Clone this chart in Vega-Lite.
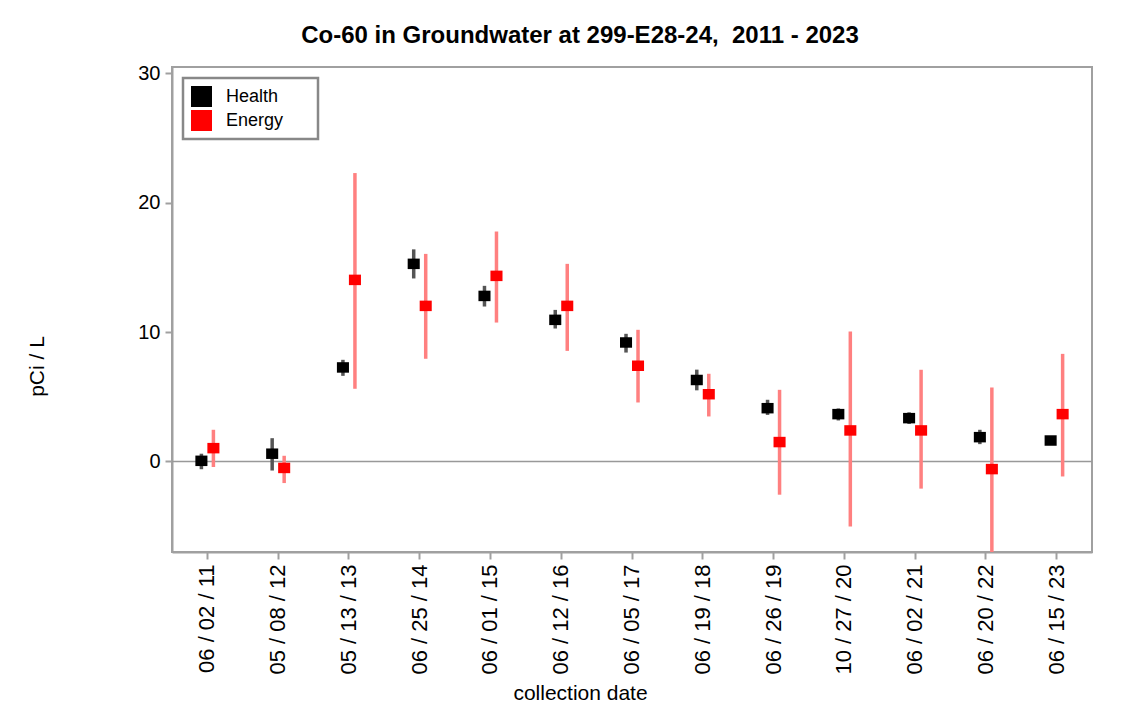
{
  "$schema": "https://vega.github.io/schema/vega-lite/v6.json",
  "autosize": {"type": "none"},
  "width": 920,
  "height": 485,
  "padding": {"left": 172, "top": 67, "right": 48, "bottom": 165},
  "background": "white",
  "config": {
    "font": "Liberation Sans",
    "view": {"stroke": "#a0a0a0", "strokeWidth": 2},
    "axisX": {
      "titleFontSize": 21,
      "titleFontWeight": "normal",
      "titleColor": "#000000",
      "titleX": 408,
      "titleY": 141,
      "titleAlign": "center",
      "titleBaseline": "middle",
      "labelAngle": 270,
      "labelAlign": "right",
      "labelBaseline": "middle",
      "labelFontSize": 22,
      "labelColor": "#000000",
      "labelPadding": 5,
      "tickSize": 7,
      "tickColor": "#a0a0a0",
      "tickWidth": 2,
      "domainColor": "#a0a0a0",
      "domainWidth": 2,
      "grid": false
    },
    "axisY": {
      "titleFontSize": 21,
      "titleFontWeight": "normal",
      "titleColor": "#000000",
      "titleAngle": 270,
      "titleX": -135,
      "titleY": 299,
      "titleAlign": "center",
      "titleBaseline": "middle",
      "labelFontSize": 20,
      "labelColor": "#000000",
      "labelPadding": 5,
      "tickSize": 7,
      "tickColor": "#a0a0a0",
      "tickWidth": 2,
      "domainColor": "#a0a0a0",
      "domainWidth": 2,
      "grid": false
    }
  },
  "title": {
    "text": "Co-60 in Groundwater at 299-E28-24,\u00a0 2011 - 2023",
    "fontSize": 24,
    "fontWeight": "bold",
    "color": "#000000",
    "anchor": "middle",
    "frame": "group",
    "dx": -52,
    "baseline": "alphabetic",
    "offset": -4
  },
  "datasets": {
    "zero": [{"z": 0}]
  },
  "data": {
    "values": [
      {"date": "06 / 02 / 11", "source": "Health", "v": 0.05, "lo": -0.6, "hi": 0.6},
      {"date": "06 / 02 / 11", "source": "Energy", "v": 1.03, "lo": -0.43, "hi": 2.45},
      {"date": "05 / 08 / 12", "source": "Health", "v": 0.6, "lo": -0.7, "hi": 1.8},
      {"date": "05 / 08 / 12", "source": "Energy", "v": -0.5, "lo": -1.67, "hi": 0.44},
      {"date": "05 / 13 / 13", "source": "Health", "v": 7.27, "lo": 6.62, "hi": 7.86},
      {"date": "05 / 13 / 13", "source": "Energy", "v": 14.04, "lo": 5.62, "hi": 22.3},
      {"date": "06 / 25 / 14", "source": "Health", "v": 15.28, "lo": 14.15, "hi": 16.4},
      {"date": "06 / 25 / 14", "source": "Energy", "v": 12.03, "lo": 7.94, "hi": 16.05},
      {"date": "06 / 01 / 15", "source": "Health", "v": 12.8, "lo": 11.98, "hi": 13.58},
      {"date": "06 / 01 / 15", "source": "Energy", "v": 14.35, "lo": 10.74, "hi": 17.78},
      {"date": "06 / 12 / 16", "source": "Health", "v": 10.95, "lo": 10.28, "hi": 11.72},
      {"date": "06 / 12 / 16", "source": "Energy", "v": 12.03, "lo": 8.55, "hi": 15.28},
      {"date": "06 / 05 / 17", "source": "Health", "v": 9.2, "lo": 8.42, "hi": 9.87},
      {"date": "06 / 05 / 17", "source": "Energy", "v": 7.4, "lo": 4.56, "hi": 10.18},
      {"date": "06 / 19 / 18", "source": "Health", "v": 6.3, "lo": 5.5, "hi": 7.1},
      {"date": "06 / 19 / 18", "source": "Energy", "v": 5.2, "lo": 3.48, "hi": 6.78},
      {"date": "06 / 26 / 19", "source": "Health", "v": 4.12, "lo": 3.6, "hi": 4.77},
      {"date": "06 / 26 / 19", "source": "Energy", "v": 1.5, "lo": -2.57, "hi": 5.54},
      {"date": "10 / 27 / 20", "source": "Health", "v": 3.66, "lo": 3.17, "hi": 4.1},
      {"date": "10 / 27 / 20", "source": "Energy", "v": 2.4, "lo": -5.02, "hi": 10.05},
      {"date": "06 / 02 / 21", "source": "Health", "v": 3.35, "lo": 2.9, "hi": 3.8},
      {"date": "06 / 02 / 21", "source": "Energy", "v": 2.4, "lo": -2.1, "hi": 7.09},
      {"date": "06 / 20 / 22", "source": "Health", "v": 1.88, "lo": 1.34, "hi": 2.45},
      {"date": "06 / 20 / 22", "source": "Energy", "v": -0.59, "lo": -7.0, "hi": 5.72},
      {"date": "06 / 15 / 23", "source": "Health", "v": 1.62, "lo": 1.45, "hi": 1.8},
      {"date": "06 / 15 / 23", "source": "Energy", "v": 3.66, "lo": -1.16, "hi": 8.32}
    ]
  },
  "layer": [
    {
      "data": {"name": "zero"},
      "mark": {"type": "rule", "color": "#999999", "strokeWidth": 1.5},
      "encoding": {
        "y": {"field": "z", "type": "quantitative", "scale": {"domain": [-7, 30.5], "nice": false, "zero": false}, "axis": {"title": "pCi / L", "values": [0, 10, 20, 30]}}
      }
    },
    {
      "mark": {"type": "rule", "strokeWidth": 3.5, "clip": true},
      "encoding": {
        "x": {"field": "date", "type": "nominal", "sort": null, "scale": {"paddingInner": 0, "paddingOuter": 0}, "axis": {"title": "collection date"}},
        "xOffset": {"field": "source", "type": "nominal", "sort": ["Health", "Energy"], "scale": {"domain": ["Health", "Energy"], "range": [23.4, 47.4]}},
        "y": {"field": "lo", "type": "quantitative"},
        "y2": {"field": "hi"},
        "color": {"field": "source", "type": "nominal", "sort": ["Health", "Energy"], "scale": {"domain": ["Health", "Energy"], "range": ["#555555", "#ff8080"]}, "legend": null}
      }
    },
    {
      "mark": {"type": "point", "filled": true, "opacity": 1, "size": 110, "shape": "M-1.15,-1H1.15V1H-1.15Z"},
      "encoding": {
        "x": {"field": "date", "type": "nominal", "sort": null},
        "xOffset": {"field": "source", "type": "nominal", "sort": ["Health", "Energy"]},
        "y": {"field": "v", "type": "quantitative"},
        "color": {
          "field": "source", "type": "nominal", "sort": ["Health", "Energy"],
          "scale": {"domain": ["Health", "Energy"], "range": ["#000000", "#ff0000"]},
          "legend": {
            "title": "\u00a0",
            "titleOrient": "right",
            "titlePadding": 27,
            "titleFontSize": 18,
            "orient": "none",
            "legendX": 11,
            "legendY": 11,
            "symbolType": "square",
            "symbolSize": 441,
            "symbolStrokeWidth": 0,
            "symbolOpacity": 1,
            "labelFontSize": 18,
            "labelColor": "#000000",
            "labelOffset": 14,
            "rowPadding": 3,
            "padding": 8,
            "strokeColor": "#888888",
            "fillColor": "#ffffff",
            "encode": {"legend": {"update": {"strokeWidth": {"value": 2.5}}}}
          }
        }
      }
    }
  ],
  "resolve": {"scale": {"color": "independent"}}
}
